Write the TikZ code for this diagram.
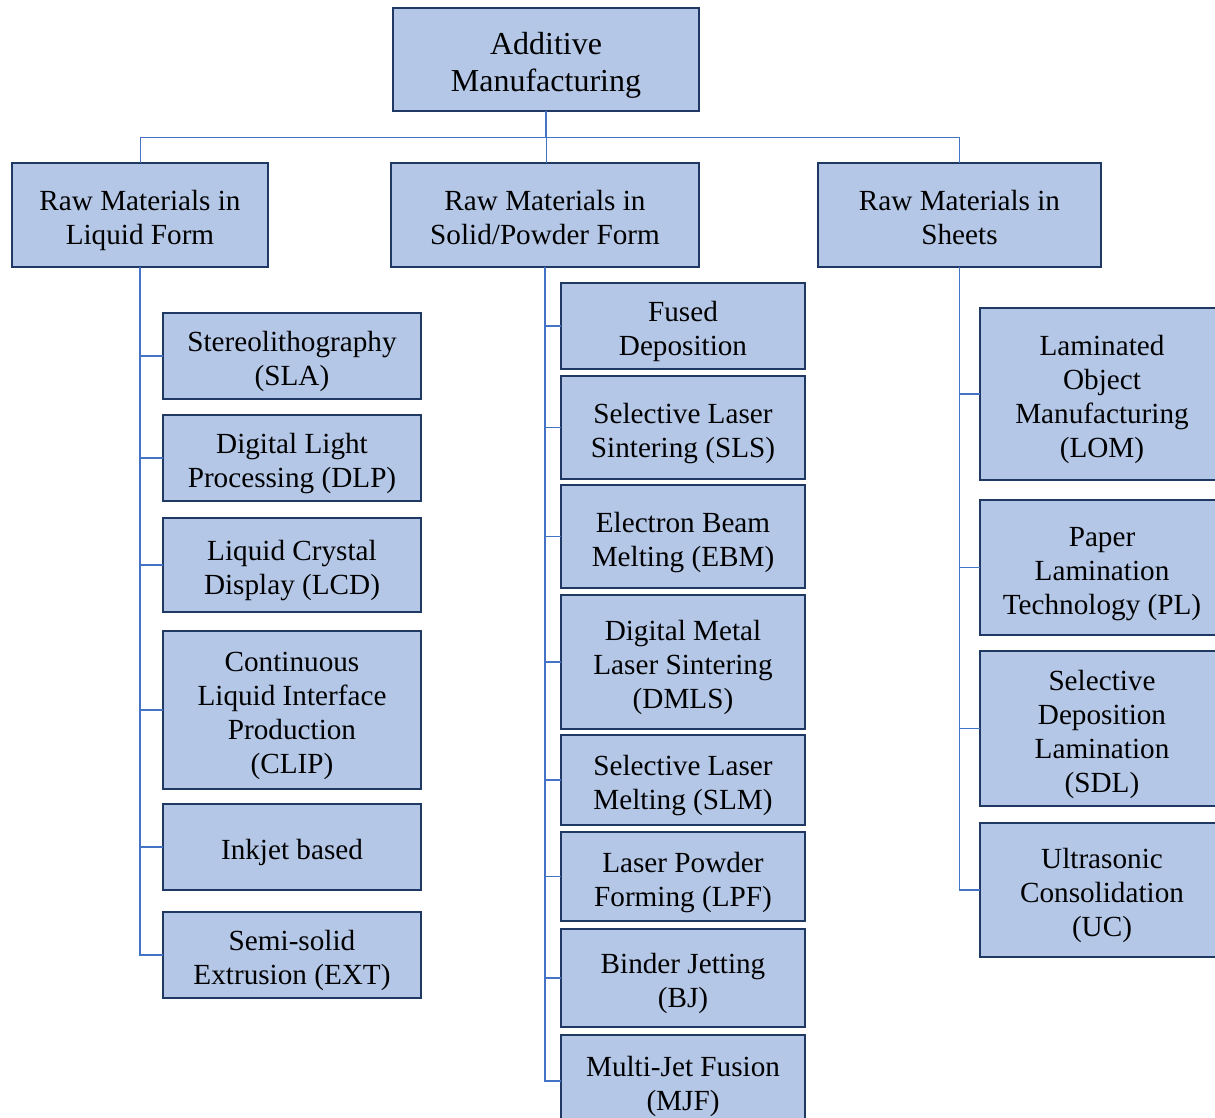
\documentclass[tikz,border=0pt]{standalone}
\usepackage{fontspec}
\setmainfont{Liberation Serif}
\definecolor{boxfill}{HTML}{B4C7E7}
\definecolor{boxborder}{HTML}{203864}
\definecolor{connblue}{HTML}{4472C4}
\newcommand\tst{\rule{0pt}{32pt}}
\newcommand\rst{\rule{0pt}{34pt}}
\newcommand\bst{\rule[-6.4pt]{0pt}{6.4pt}}
\begin{document}
\begin{tikzpicture}[x=1pt,y=-1pt,
  box/.style={draw=boxborder, line width=2.4pt, fill=boxfill, align=center,
    inner sep=0pt, outer sep=0pt, font=\fontsize{29.2}{34}\selectfont, text=black},
  rootbox/.style={box, font=\fontsize{32}{37}\selectfont},
  conn/.style={draw=connblue, line width=1.4pt},
  busline/.style={draw=connblue, line width=1pt}]
\clip (0,0) rectangle (1215,1117);
\fill[white] (0,0) rectangle (1215,1117);
% root
\node[rootbox, minimum width=306pt, minimum height=103pt] (root) at (546,59.5) {\rst Additive\\Manufacturing};
% level 1
\node[box, minimum width=256pt, minimum height=104pt] (liq) at (140,215) {\tst Raw Materials in\\Liquid Form\bst};
\node[box, minimum width=308pt, minimum height=104pt] (sol) at (545,215) {\tst Raw Materials in\\Solid/Powder Form\bst};
\node[box, minimum width=283pt, minimum height=104pt] (she) at (959.5,215) {\tst Raw Materials in\\Sheets\bst};
% liquid children
\node[box, minimum width=258pt, minimum height=86pt] (sla) at (292,356) {\tst Stereolithography\\(SLA)\bst};
\node[box, minimum width=258pt, minimum height=86pt] (dlp) at (292,458) {\tst Digital Light\\Processing (DLP)\bst};
\node[box, minimum width=258pt, minimum height=94pt] (lcd) at (292,565) {\tst Liquid Crystal\\Display (LCD)\bst};
\node[box, minimum width=258pt, minimum height=158pt] (clip) at (292,710) {\tst Continuous\\Liquid Interface\\Production\\(CLIP)\bst};
\node[box, minimum width=258pt, minimum height=86pt] (ink) at (292,847) {\tst Inkjet based\bst};
\node[box, minimum width=258pt, minimum height=86pt] (ext) at (292,955) {\tst Semi-solid\\Extrusion (EXT)\bst};
% solid children
\node[box, minimum width=244pt, minimum height=86pt] (fd) at (683,326) {\tst Fused\\Deposition\bst};
\node[box, minimum width=244pt, minimum height=103pt] (sls) at (683,427.5) {\tst Selective Laser\\Sintering (SLS)\bst};
\node[box, minimum width=244pt, minimum height=103pt] (ebm) at (683,536.5) {\tst Electron Beam\\Melting (EBM)\bst};
\node[box, minimum width=244pt, minimum height=134pt] (dmls) at (683,662) {\tst Digital Metal\\Laser Sintering\\(DMLS)\bst};
\node[box, minimum width=244pt, minimum height=90pt] (slm) at (683,780) {\tst Selective Laser\\Melting (SLM)\bst};
\node[box, minimum width=244pt, minimum height=89pt] (lpf) at (683,876.5) {\tst Laser Powder\\Forming (LPF)\bst};
\node[box, minimum width=244pt, minimum height=98pt] (bj) at (683,978) {\tst Binder Jetting\\(BJ)\bst};
\node[box, minimum width=244pt, minimum height=92pt] (mjf) at (683,1081) {\tst Multi-Jet Fusion\\(MJF)\bst};
% sheet children
\node[box, minimum width=244pt, minimum height=172pt] (lom) at (1102,394) {\tst Laminated\\Object\\Manufacturing\\(LOM)\bst};
\node[box, minimum width=244pt, minimum height=135pt] (pl) at (1102,567.5) {\tst Paper\\Lamination\\Technology (PL)\bst};
\node[box, minimum width=244pt, minimum height=155pt] (sdl) at (1102,728.5) {\tst Selective\\Deposition\\Lamination\\(SDL)\bst};
\node[box, minimum width=244pt, minimum height=134pt] (uc) at (1102,890) {\tst Ultrasonic\\Consolidation\\(UC)\bst};
% connectors
\draw[conn] (root.south) -- ++(0,26) coordinate (bus);
\draw[busline] (bus) -| (liq.north);
\draw[busline] (bus) -| (she.north);
\draw[busline] (bus) -- (bus |- sol.north);
\foreach \c in {sla,dlp,lcd,clip,ink,ext} \draw[conn] (liq.south) |- (\c.west);
\foreach \c in {fd,sls,ebm,dmls,slm,lpf,bj,mjf} \draw[conn] (sol.south) |- (\c.west);
\foreach \c in {lom,pl,sdl,uc} \draw[conn] (she.south) |- (\c.west);
\end{tikzpicture}
\end{document}
